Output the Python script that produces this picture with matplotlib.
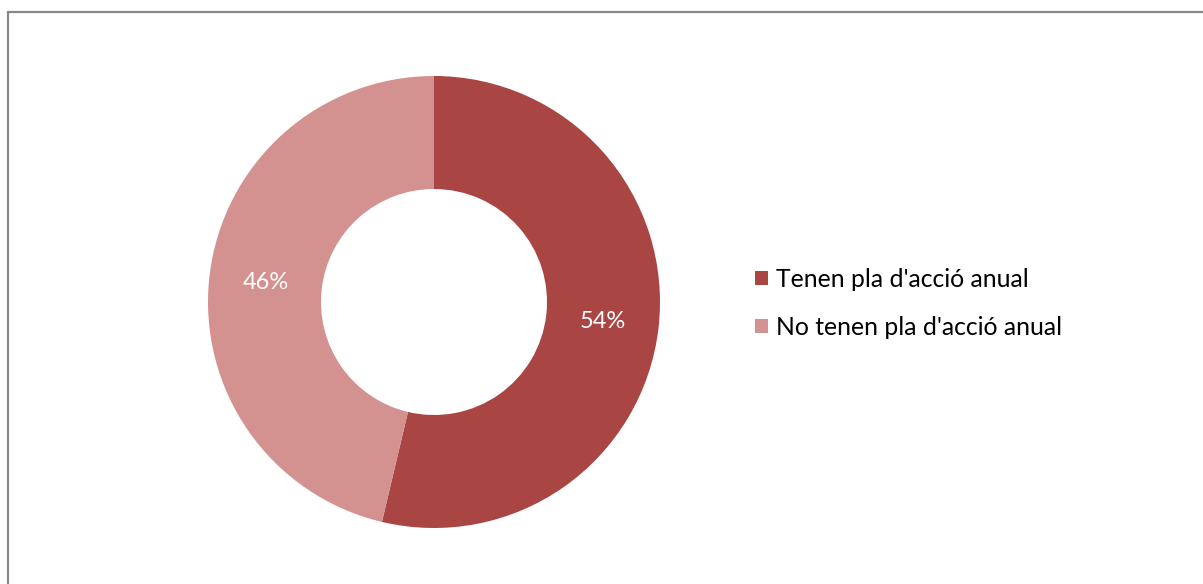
import matplotlib
matplotlib.use("Agg")
import matplotlib.pyplot as plt
from matplotlib.patches import Rectangle

labels = ["Tenen pla d'acció anual", "No tenen pla d'acció anual"]
values = [53.7, 46.3]
colors = ["#A94543", "#D39190"]

W, H = 1203, 584
fig = plt.figure(figsize=(W / 100, H / 100), dpi=100)
plt.rcParams['font.family'] = ['Lato', 'DejaVu Sans']

# border
fig.patches.append(Rectangle((7.5 / W, -0.01), 1.1, (H - 11.5) / H + 0.01,
                             transform=fig.transFigure, fill=False,
                             edgecolor="#898989", linewidth=1.6))

cx, cy, r = 434, 302, 226
ax = fig.add_axes([(cx - r) / W, (H - cy - r) / H, 2 * r / W, 2 * r / H])
wedges, texts, autotexts = ax.pie(values, colors=colors, startangle=90, counterclock=False,
                                  radius=1, wedgeprops=dict(width=0.5, linewidth=0),
                                  autopct=lambda p: f"{p:.0f}%", pctdistance=0.75)
for t in autotexts:
    t.set_color("white")
    t.set_fontsize(17)
ax.set_xlim(-1, 1)
ax.set_ylim(-1, 1)
ax.set_aspect("equal")

leg = fig.legend(wedges, labels, loc="upper left", bbox_to_anchor=(755 / W, 1 - 268 / H),
                 frameon=False, fontsize=17.8, handlelength=0.52, handleheight=0.52,
                 handletextpad=0.33, labelspacing=1.0, borderaxespad=0, borderpad=0)

fig.savefig("out.png", dpi=100)
